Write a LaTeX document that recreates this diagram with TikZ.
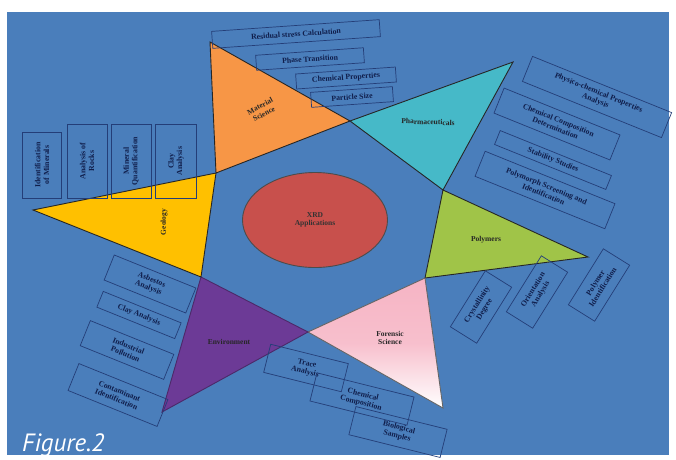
\documentclass[tikz,border=0pt]{standalone}
\usepackage{fontspec}
\usetikzlibrary{shapes.geometric}
\setmainfont{Liberation Serif}
\newfontfamily\figfont{PT Sans}
\definecolor{bgblue}{RGB}{74,126,187}
\definecolor{boxline}{RGB}{36,62,120}
\definecolor{txtblue}{RGB}{16,30,75}
\definecolor{orng}{RGB}{247,150,70}
\definecolor{cyn}{RGB}{70,185,200}
\definecolor{grn}{RGB}{160,196,72}
\definecolor{pnk}{RGB}{246,180,196}
\definecolor{prp}{RGB}{108,58,150}
\definecolor{ylw}{RGB}{255,192,0}
\definecolor{rd}{RGB}{200,80,76}
\tikzset{
  tri/.style={draw=black!85, line width=0.9pt, line join=miter},
  lbl/.style={font=\fontsize{7.5}{8.5}\selectfont\bfseries, text=black!85, align=center, inner sep=1pt},
  appbox/.style={draw=boxline, line width=0.7pt, font=\fontsize{7.8}{8.6}\selectfont\bfseries,
    text=txtblue, align=center, inner sep=1.5pt, minimum height=15pt},
}
\begin{document}
\begin{tikzpicture}[x=1pt,y=-1pt]
\useasboundingbox (0,0) rectangle (676,459);
\fill[white] (0,0) rectangle (676,459);
\fill[bgblue] (7,12) rectangle (669,455);

% inner hexagon corners and outer tips
\coordinate (hA) at (350,121);
\coordinate (hB) at (443,190);
\coordinate (hC) at (425,278);
\coordinate (hD) at (308,332);
\coordinate (hE) at (201,277);
\coordinate (hF) at (216,173);
\coordinate (tMat) at (210,42);
\coordinate (tPha) at (513,62);
\coordinate (tPol) at (588,257);
\coordinate (tFor) at (443,408);
\coordinate (tEnv) at (162,412);
\coordinate (tGeo) at (33,210);

% triangles
\filldraw[tri, fill=orng] (hF) -- (tMat) -- (hA) -- cycle;
\filldraw[tri, fill=cyn] (hA) -- (tPha) -- (hB) -- cycle;
\filldraw[tri, fill=grn] (hB) -- (tPol) -- (hC) -- cycle;
\shade[top color=pnk, bottom color=white, middle color=pnk!85!white] (hC) -- (tFor) -- (hD) -- cycle;
\draw[tri, draw=black!60] (hC) -- (tFor) -- (hD) -- cycle;
\filldraw[tri, fill=prp, draw=prp!70!black] (hD) -- (tEnv) -- (hE) -- cycle;
\filldraw[tri, fill=ylw] (hE) -- (tGeo) -- (hF) -- cycle;

% centre
\node[ellipse, draw=black!70, line width=0.9pt, fill=rd, minimum width=145pt, minimum height=95pt,
  lbl, text=black!80] (xrd) at (315,220) {XRD\\Applications};

% triangle labels
\node[lbl, rotate=28] (lMat) at (262,110) {Material\\Science};
\node[lbl, rotate=-2] (lPha) at (428,122) {Pharmaceuticals};
\node[lbl] (lPol) at (486,240) {Polymers};
\node[lbl] (lFor) at (390,338) {Forensic\\Science};
\node[lbl] (lEnv) at (229,342) {Environment};
\node[lbl, rotate=90] (lGeo) at (164,222) {Geology};

% Material Science boxes
\node[appbox, rotate=4, minimum width=168pt, minimum height=17pt] (m1) at (296,34) {Residual stress Calculation};
\node[appbox, rotate=4, minimum width=108pt] (m2) at (310,59) {Phase Transition};
\node[appbox, rotate=4, minimum width=100pt] (m3) at (346,78) {Chemical Properties};
\node[appbox, rotate=4, minimum width=82pt] (m4) at (352,97) {Particle Size};

% Pharmaceutical boxes
\node[appbox, rotate=-22, minimum width=150pt, minimum height=27pt] (p1) at (597,97) {Physico-chemical Properties\\Analysis};
\node[appbox, rotate=-22, minimum width=125pt, minimum height=27pt] (p2) at (557,124) {Chemical Composition\\Determination};
\node[appbox, rotate=-22, minimum width=120pt] (p3) at (553,160) {Stability Studies};
\node[appbox, rotate=-22, minimum width=140pt, minimum height=27pt] (p4) at (545,190) {Polymorph Screening and\\Identification};

% Polymer boxes
\node[appbox, rotate=58, minimum width=66pt, minimum height=31pt] (y1) at (481,307) {Crystallinity\\Degree};
\node[appbox, rotate=58, minimum width=66pt, minimum height=31pt] (y2) at (537,292) {Orientation\\Analysis};
\node[appbox, rotate=58, minimum width=66pt, minimum height=31pt] (y3) at (599,285) {Polymer\\Identification};

% Geology boxes
\node[appbox, rotate=90, minimum width=66pt, minimum height=39pt] (g1) at (42,165) {Identification\\of Minerals};
\node[appbox, rotate=90, minimum width=74pt, minimum height=40pt] (g2) at (87,161) {Analysis of\\Rocks};
\node[appbox, rotate=90, minimum width=74pt, minimum height=40pt] (g3) at (131,161) {Mineral\\Quantification};
\node[appbox, rotate=90, minimum width=74pt, minimum height=41pt] (g4) at (176,161) {Clay\\Analysis};

% Environment boxes
\node[appbox, rotate=-22, minimum width=88pt, minimum height=27pt] (e1) at (150,284) {Asbestos\\Analysis};
\node[appbox, rotate=-22, minimum width=84pt, minimum height=17pt] (e2) at (139,315) {Clay Analysis};
\node[appbox, rotate=-22, minimum width=90pt, minimum height=27pt] (e3) at (127,350) {Industrial\\Pollution};
\node[appbox, rotate=-22, minimum width=96pt, minimum height=29pt] (e4) at (118,395) {Contaminant\\Identification};

% Forensic boxes
\node[appbox, rotate=-14, minimum width=80pt, minimum height=29pt] (f1) at (306,368) {Trace\\Analysis};
\node[appbox, rotate=-14, minimum width=100pt, minimum height=29pt] (f2) at (362,399) {Chemical\\Composition};
\node[appbox, rotate=-14, minimum width=94pt, minimum height=29pt] (f3) at (398,432) {Biological\\Samples};

% caption
\node[anchor=base west, text=white, font=\figfont\itshape\fontsize{25}{28}\selectfont, inner sep=0pt] (cap) at (22,451) {Figure.2};
\end{tikzpicture}
\end{document}
